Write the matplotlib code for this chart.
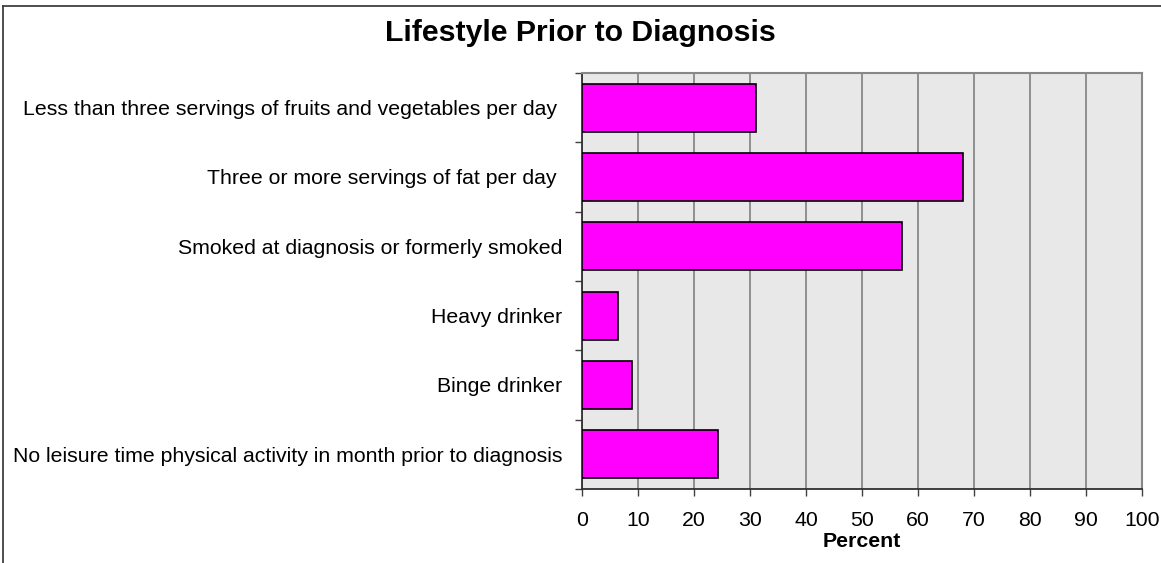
import matplotlib
matplotlib.use('Agg')
import matplotlib.pyplot as plt
from matplotlib.lines import Line2D
import numpy as np


# ==================== DATA ====================
categories = [
    'Less than three servings of fruits and vegetables per day ',
    'Three or more servings of fat per day ',
    'Smoked at diagnosis or formerly smoked',
    'Heavy drinker',
    'Binge drinker',
    'No leisure time physical activity in month prior to diagnosis',
]
percent = [31.1, 68.0, 57.2, 6.5, 9.0, 24.3]
x_ticks = [0, 10, 20, 30, 40, 50, 60, 70, 80, 90, 100]

# ==================== STYLE ====================
W, H, DPI = 1161, 563, 100
BAR_COLOR = '#ff00ff'
PLOT_BG = '#e8e8e8'
GRID_COLOR = '#777777'
FS = 15.3

plt.rcParams['font.family'] = ['Liberation Sans', 'DejaVu Sans']

fig = plt.figure(figsize=(W / DPI, H / DPI), dpi=DPI)
ax = fig.add_axes([582 / W, 1 - 489 / H, (1142 - 582) / W, (489 - 73) / H])
ax.set_facecolor(PLOT_BG)

ypos = np.arange(len(categories))
ax.barh(ypos, percent, height=0.69, color=BAR_COLOR,
        edgecolor='black', linewidth=1.2, zorder=3)

ax.set_xlim(0, 100)
ax.set_ylim(len(categories) - 0.5, -0.5)
ax.set_xticks(x_ticks)
ax.set_xticklabels([str(t) for t in x_ticks], fontsize=FS)
ax.xaxis.grid(True, color=GRID_COLOR, linewidth=1.1, zorder=0)
ax.set_axisbelow(True)

# category labels (no tick marks) + ticks on category boundaries
ax.set_yticks(ypos)
ax.set_yticklabels(categories, fontsize=FS)
ax.tick_params(axis='y', which='major', length=0, pad=14)
ax.set_yticks(np.arange(len(categories) + 1) - 0.5, minor=True)
ax.tick_params(axis='y', which='minor', length=5, width=1.0, color='#404040')
ax.tick_params(axis='x', length=5, width=1.0, color='#404040', pad=11)

ax.set_xlabel('Percent', fontsize=FS, fontweight='bold', labelpad=1)

for side in ('top', 'right'):
    ax.spines[side].set_color('#888888')
    ax.spines[side].set_linewidth(1.5)
for side in ('left', 'bottom'):
    ax.spines[side].set_color('#303030')
    ax.spines[side].set_linewidth(1.3)

fig.text(0.5, 1 - 33 / H, 'Lifestyle Prior to Diagnosis',
         ha='center', va='center', fontsize=21.8, fontweight='bold')

# outer chart border (only left and top edges are visible in the picture)
fig.add_artist(Line2D([2.5 / W, 2.5 / W], [0, 1 - 6 / H],
                      transform=fig.transFigure, color='#404040', linewidth=1.3))
fig.add_artist(Line2D([2.5 / W, 1], [1 - 6 / H, 1 - 6 / H],
                      transform=fig.transFigure, color='#404040', linewidth=1.3))

fig.savefig('out.png', dpi=DPI)
